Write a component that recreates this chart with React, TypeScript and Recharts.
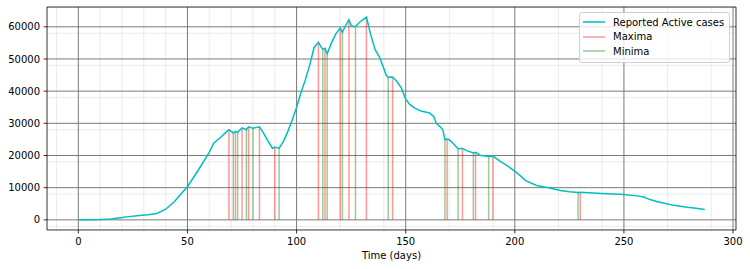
import React from 'react';
import {
  ComposedChart,
  Line,
  XAxis,
  YAxis,
  CartesianGrid,
  ReferenceLine,
  Legend,
} from 'recharts';

// Reported active cases (day -> cases)
const days = [
  0, 5, 10, 15, 20, 23, 27, 32, 36, 40, 44, 47, 50, 55, 60, 62, 65, 67, 69, 71,
  72, 73, 75, 77, 78, 80, 83, 85, 87, 89, 90, 91, 92, 94, 96, 98, 100, 102, 104,
  106, 108, 110, 111, 112, 113, 114, 116, 118, 120, 121, 122, 124, 125, 126, 127,
  129, 132, 134, 136, 138, 140, 141, 142, 144, 146, 148, 150, 152, 154, 157, 161,
  163, 164, 166, 167, 168, 169, 170, 172, 174, 176, 178, 181, 182, 184, 188, 190,
  193, 197, 201, 205, 210, 216, 221, 225, 229, 230, 240, 250, 256, 259, 262, 265,
  269, 273, 279, 283, 287,
];
const activeCases = [
  0, 50, 100, 300, 700, 1000, 1300, 1600, 2000, 3300, 5600, 8000, 10300, 15500,
  21000, 23800, 25500, 26800, 28000, 27000, 27500, 27200, 28600, 28000, 28900,
  28500, 28900, 26800, 24400, 22200, 22600, 22400, 22300, 24400, 27500, 31000,
  35000, 39500, 43500, 48000, 53500, 55200, 54000, 53000, 53300, 51600, 55000,
  57800, 59600, 58300, 59800, 62200, 60500, 60100, 60100, 61500, 63000, 57500,
  52900, 50600, 47000, 45000, 44300, 44400, 43000, 41000, 37500, 35800, 34800,
  33800, 33200, 32000, 30000, 28800, 28000, 24900, 25100, 24900, 23600, 22100,
  22200, 21500, 20800, 21000, 20100, 19700, 19800, 18300, 16600, 14600, 12200,
  10700, 9900, 9100, 8700, 8500, 8550, 8200, 7850, 7450, 7100, 6300, 5700, 5100,
  4500, 3900, 3600, 3200,
];

const maximaDays = [69, 72, 75, 78, 83, 90, 110, 113, 120, 124, 132, 144, 169, 176, 182, 190, 230];
const minimaDays = [71, 73, 77, 80, 92, 112, 114, 121, 127, 142, 168, 174, 181, 188, 229];

const xTicks = [0, 50, 100, 150, 200, 250, 300];
const yTicks = [0, 10000, 20000, 30000, 40000, 50000, 60000];
const xMinorTicks = [
  -10, 10, 20, 30, 40, 60, 70, 80, 90, 110, 120, 130, 140, 160, 170, 180, 190,
  210, 220, 230, 240, 260, 270, 280, 290,
];
const yMinorTicks = [
  -2000, 2000, 4000, 6000, 8000, 12000, 14000, 16000, 18000, 22000, 24000, 26000,
  28000, 32000, 34000, 36000, 38000, 42000, 44000, 46000, 48000, 52000, 54000,
  56000, 58000, 62000, 64000, 66000,
];

const seriesNames = ['Reported Active cases', 'Maxima', 'Minima'];

const data = days.map((d, i) => ({ day: d, active: activeCases[i] }));
const valueAt = (d: number) => data.find((p) => p.day === d)?.active ?? 0;

const xDomain = [-14.35, 301.35];
const yDomain = [-3150, 66150];

const font = { fontFamily: 'DejaVu Sans', fontSize: 10, fill: '#000' };
const CYAN = '#00bfbf';
const THIN = 0.01; // axes need a non-zero size to be drawn

function LegendBox() {
  const items = [
    { name: seriesNames[0], color: CYAN, opacity: 1 },
    { name: seriesNames[1], color: 'red', opacity: 0.4 },
    { name: seriesNames[2], color: 'green', opacity: 0.4 },
  ];
  return (
    <div
      style={{
        width: 149,
        height: 47,
        border: '1px solid #d0d0d0',
        borderRadius: 3,
        background: 'rgba(255,255,255,0.8)',
        paddingTop: 2,
        boxSizing: 'content-box',
        fontFamily: 'DejaVu Sans',
        fontSize: 10,
        color: '#000',
      }}
    >
      {items.map((it) => (
        <div key={it.name} style={{ height: 14.5, display: 'flex', alignItems: 'center' }}>
          <svg width={33} height={10} style={{ flex: 'none' }}>
            <line x1={3} x2={25} y1={5} y2={5} stroke={it.color} strokeOpacity={it.opacity} strokeWidth={1.5} />
          </svg>
          <span style={{ whiteSpace: 'nowrap' }}>{it.name}</span>
        </div>
      ))}
    </div>
  );
}

export default function App() {
  return (
    <div style={{ position: 'absolute', left: 0, top: 0, background: '#fff' }}>
      <ComposedChart
        width={750}
        height={269}
        data={data}
        margin={{ top: 7, right: 14, bottom: 39, left: 47 }}
      >
        <XAxis
          xAxisId="minor"
          type="number"
          dataKey="day"
          domain={xDomain}
          allowDataOverflow
          ticks={xMinorTicks}
          tick={false}
          tickSize={2}
          tickLine={{ stroke: '#000', strokeWidth: 0.6 }}
          axisLine={false}
          height={THIN}
        />
        <YAxis
          yAxisId="minor"
          type="number"
          domain={yDomain}
          allowDataOverflow
          ticks={yMinorTicks}
          tick={false}
          tickSize={2}
          tickLine={{ stroke: '#000', strokeWidth: 0.6 }}
          axisLine={false}
          width={THIN}
        />
        <XAxis
          xAxisId="top"
          orientation="top"
          type="number"
          domain={xDomain}
          allowDataOverflow
          ticks={xTicks}
          tick={false}
          tickLine={false}
          axisLine={{ stroke: '#000', strokeWidth: 0.8 }}
          height={THIN}
        />
        <YAxis
          yAxisId="right"
          orientation="right"
          type="number"
          domain={yDomain}
          allowDataOverflow
          ticks={yTicks}
          tick={false}
          tickLine={false}
          axisLine={{ stroke: '#000', strokeWidth: 0.8 }}
          width={THIN}
        />
        <XAxis
          type="number"
          dataKey="day"
          domain={xDomain}
          allowDataOverflow
          ticks={xTicks}
          tick={font}
          tickSize={3.5}
          tickMargin={4}
          tickLine={{ stroke: '#000', strokeWidth: 0.8 }}
          axisLine={{ stroke: '#000', strokeWidth: 0.8 }}
          height={THIN}
          label={{ value: 'Time (days)', position: 'bottom', offset: 22, style: font }}
        />
        <YAxis
          type="number"
          domain={yDomain}
          allowDataOverflow
          ticks={yTicks}
          tick={font}
          tickSize={3.5}
          tickMargin={3.5}
          tickLine={{ stroke: '#000', strokeWidth: 0.8 }}
          axisLine={{ stroke: '#000', strokeWidth: 0.8 }}
          width={THIN}
        />
        <CartesianGrid
          verticalValues={xMinorTicks}
          horizontalValues={yMinorTicks}
          stroke="#e6e6e6"
          strokeWidth={0.8}
        />
        <CartesianGrid
          verticalValues={xTicks}
          horizontalValues={yTicks}
          stroke="#7a7a7a"
          strokeWidth={1}
        />
        {maximaDays.map((d) => (
          <ReferenceLine
            key={'max' + d}
            segment={[{ x: d, y: 0 }, { x: d, y: valueAt(d) }]}
            stroke="red"
            strokeOpacity={0.4}
            strokeWidth={1.5}
          />
        ))}
        {minimaDays.map((d) => (
          <ReferenceLine
            key={'min' + d}
            segment={[{ x: d, y: 0 }, { x: d, y: valueAt(d) }]}
            stroke="green"
            strokeOpacity={0.4}
            strokeWidth={1.5}
          />
        ))}
        <Line
          type="linear"
          dataKey="active"
          name={seriesNames[0]}
          stroke={CYAN}
          strokeWidth={1.5}
          dot={false}
          activeDot={false}
          isAnimationActive={false}
        />
        <Legend
          layout="vertical"
          align="center"
          verticalAlign="middle"
          content={() => <LegendBox />}
          wrapperStyle={{ left: 579, top: 12, width: 151, height: 50 }}
        />
      </ComposedChart>
    </div>
  );
}
